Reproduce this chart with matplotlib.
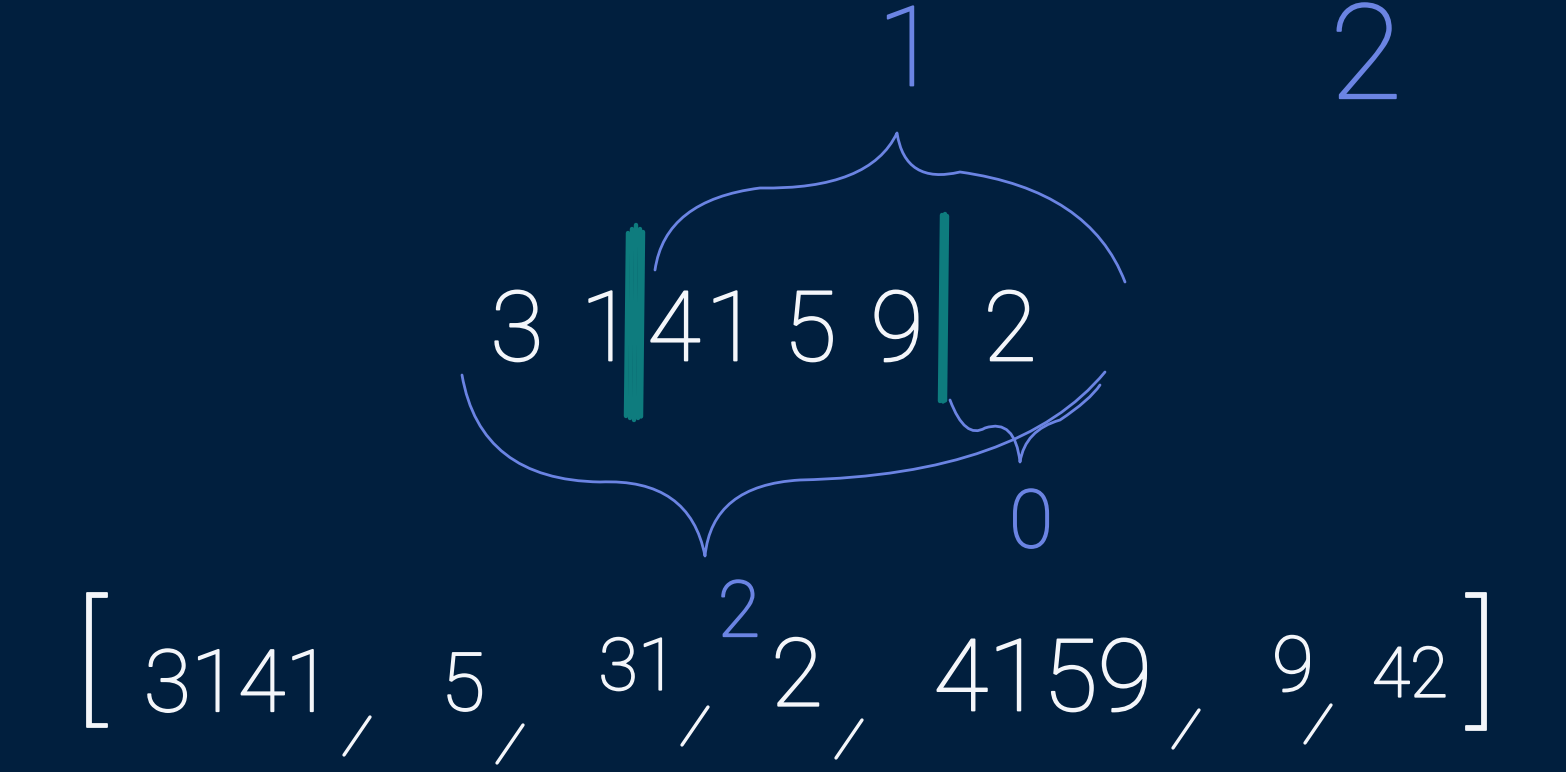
import numpy as np
import matplotlib
matplotlib.use('Agg')
import matplotlib.pyplot as plt
import matplotlib.patheffects as pe
from matplotlib.path import Path
from matplotlib.patches import PathPatch

# what is written on the board
digits = ['3', '1', '4', '1', '5', '9', '2']
digit_x = [517, 607, 674, 732, 810, 897, 1010]
list_items = ['3141', '5', '31', '2', '4159', '9', '42']
item_x = [238, 463, 638, 797, 1043, 1293, 1410]
item_y = [688, 688, 670, 680, 683, 670, 678]
item_size = [62, 58, 52, 68, 72, 55, 50]
comma_x = [357, 510, 695, 849, 1186, 1318]
comma_y = [737, 745, 727, 740, 730, 725]
cut_x = [635, 943]          # teal partition marks
top_labels = ['1', '2']
top_x = [908, 1366]

bg = '#011f3e'
white = '#f4f6fa'
blue = '#6b84e3'
teal = '#0e7c7e'
font = ['Roboto', 'DejaVu Sans']

fig = plt.figure(figsize=(15.66, 7.72), dpi=100, facecolor=bg)
ax = fig.add_axes([0, 0, 1, 1])
ax.set_facecolor(bg)
ax.set_xlim(0, 1566)
ax.set_ylim(772, 0)
ax.axis('off')


def curve(pts, color=blue, lw=2.0):
    # smooth hand-drawn stroke through control points (quadratic beziers)
    verts = [pts[0]]
    codes = [Path.MOVETO]
    for i in range(1, len(pts) - 1, 2):
        verts += [pts[i], pts[i + 1]]
        codes += [Path.CURVE3, Path.CURVE3]
    ax.add_patch(PathPatch(Path(verts, codes), fill=False, ec=color, lw=lw,
                           capstyle='round', joinstyle='round'))


def write(x, y, s, color, size, ha='center'):
    t = ax.text(x, y, s, color=color, fontsize=size, ha=ha, va='center',
                family=font, fontweight='light')
    t.set_path_effects([pe.Stroke(linewidth=1.3, foreground=color), pe.Normal()])
    return t


# middle row of digits
for d, x in zip(digits, digit_x):
    write(x, 334, d, white, 70)

# teal cut marks, scribbled with a few strokes each
for x, (y0, y1), offs in zip(cut_x, [(225, 420), (213, 402)],
                              [[-8, -4, 0, 4, 7], [-2, 1, 3]]):
    for o in offs:
        ax.plot([x + o + 1, x + o - 1], [y0 + abs(o), y1 - abs(o) * 0.5],
                color=teal, lw=3.2, solid_capstyle='round')

# upper brace -> 1
curve([(655, 270), (665, 200), (760, 188), (870, 190), (897, 133),
       (905, 185), (960, 172), (1090, 190), (1125, 282)])
# lower brace -> 2
curve([(462, 375), (480, 480), (600, 482), (690, 478), (705, 556),
       (712, 485), (800, 480), (1020, 475), (1105, 372)])
# small brace under the last digit -> 0
curve([(950, 400), (965, 440), (985, 428), (1015, 418), (1020, 462),
       (1025, 430), (1060, 420), (1090, 400), (1100, 385)])

for t, x, s, y in zip(top_labels, top_x, [80, 95], [55, 62]):
    write(x, y, t, blue, s)
write(1031, 525, '0', blue, 58)
write(739, 615, '2', blue, 56)

# bottom list
write(90, 667, '[', white, 100)
write(1482, 668, ']', white, 102)
for it, x, s, y in zip(list_items, item_x, item_size, item_y):
    write(x, y, it, white, s)
for x, y in zip(comma_x, comma_y):
    ax.plot([x + 13, x - 13], [y - 20, y + 18], color=white, lw=2.4,
            solid_capstyle='round')

fig.savefig('out.png', dpi=100, facecolor=bg)
